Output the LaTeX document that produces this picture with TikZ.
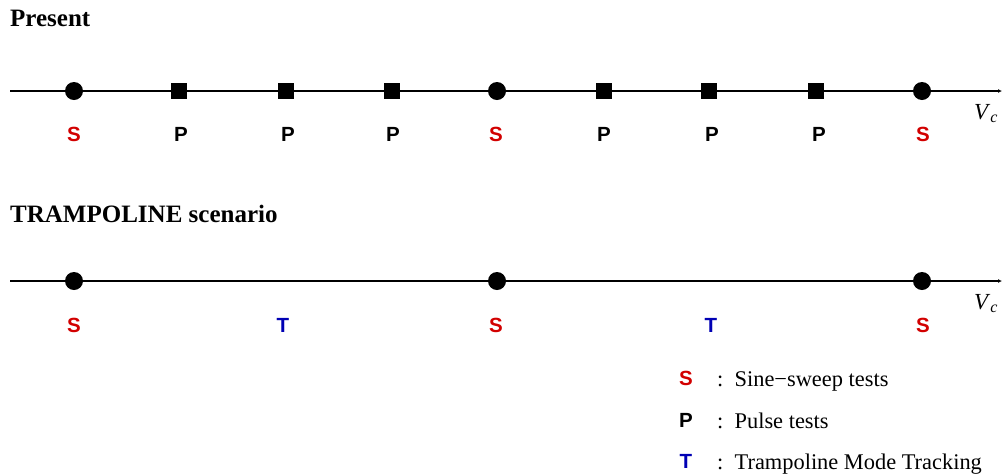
\documentclass[tikz,border=0pt]{standalone}
\usepackage{fontspec}
\setmainfont{Liberation Serif}
\newfontfamily\helv{Liberation Sans}
\usetikzlibrary{arrows.meta}
\definecolor{sred}{RGB}{210,0,0}
\definecolor{tblue}{RGB}{0,0,180}
\newcommand{\vcsym}{\textit{V}\raisebox{-3.5pt}{\fontsize{16}{18}\selectfont\textit{c}}}
\tikzset{
  axisline/.style={line width=1.1pt,-{Latex[length=4pt,width=4pt]}},
  sdot/.style={circle,fill=black,inner sep=0pt,minimum size=18pt},
  psq/.style={rectangle,fill=black,inner sep=0pt,minimum size=16pt},
  lab/.style={font=\helv\bfseries\fontsize{20.5}{22}\selectfont,inner sep=0pt,anchor=center},
  slab/.style={lab,text=sred},
  tlab/.style={lab,text=tblue},
  plab/.style={lab,text=black},
  title/.style={font=\bfseries\fontsize{25}{28}\selectfont,anchor=base west,inner sep=0pt},
  legtxt/.style={font=\fontsize{22.4}{25}\selectfont,anchor=base west,inner sep=0pt},
  vclab/.style={font=\fontsize{23}{25}\selectfont,inner sep=0pt,anchor=base west}
}
\begin{document}
\begin{tikzpicture}[x=1pt,y=-1pt]
\useasboundingbox (0,0) rectangle (1003,475);
% Present
\node[title] (t1) at (10,26) {Present};
\coordinate (a1) at (10,91);
\coordinate (b1) at (1002,91);
\draw[axisline] (a1) -- (b1);
\node[sdot] (s1) at (74,91) {};
\node[psq] (p1) at (179,91) {};
\node[psq] (p2) at (286,91) {};
\node[psq] (p3) at (392,91) {};
\node[sdot] (s2) at (497,91) {};
\node[psq] (p4) at (604,91) {};
\node[psq] (p5) at (709,91) {};
\node[psq] (p6) at (816,91) {};
\node[sdot] (s3) at (922,91) {};
\node[vclab] (vc1) at (974,119) {\vcsym};
\node[slab] (ls1) at (74,134) {S};
\node[plab] (lp1) at (181,134) {P};
\node[plab] (lp2) at (288,134) {P};
\node[plab] (lp3) at (393,134) {P};
\node[slab] (ls2) at (496,134) {S};
\node[plab] (lp4) at (604,134) {P};
\node[plab] (lp5) at (712,134) {P};
\node[plab] (lp6) at (819,134) {P};
\node[slab] (ls3) at (923,134) {S};
% Trampoline
\node[title] (t2) at (10,222) {TRAMPOLINE scenario};
\coordinate (a2) at (10,281);
\coordinate (b2) at (1002,281);
\draw[axisline] (a2) -- (b2);
\node[sdot] (s4) at (74,281) {};
\node[sdot] (s5) at (497,281) {};
\node[sdot] (s6) at (922,281) {};
\node[vclab] (vc2) at (974,309) {\vcsym};
\node[slab] (ls4) at (74,325) {S};
\node[tlab] (lt1) at (283,325) {T};
\node[slab] (ls5) at (496,325) {S};
\node[tlab] (lt2) at (711,325) {T};
\node[slab] (ls6) at (923,325) {S};
% Legend
\node[slab] (k1) at (686,378) {S};
\node[plab] (k2) at (686,420) {P};
\node[tlab] (k3) at (686,461) {T};
\node[legtxt] (d1) at (717,386) {:\ \ Sine−sweep tests};
\node[legtxt] (d2) at (717,428) {:\ \ Pulse tests};
\node[legtxt] (d3) at (717,469) {:\ \ Trampoline Mode Tracking};
\end{tikzpicture}
\end{document}
